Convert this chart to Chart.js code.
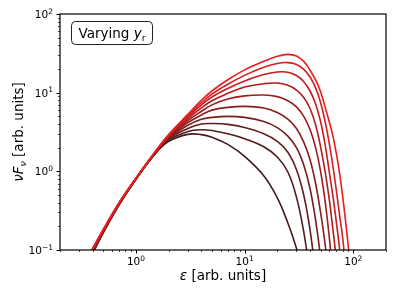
<!DOCTYPE html>
<html>
<head>
<meta charset="utf-8">
<script src="https://cdn.jsdelivr.net/npm/chart.js@4.4.0/dist/chart.umd.min.js"></script>
<style>
  body { margin: 0; background: #fff; }
  canvas { display: block; }
</style>
</head>
<body>
<canvas id="sed" width="395" height="296"></canvas>
<script>
// photon energy grid (arb. units)
const energy = [0.3, 0.4, 0.5, 0.7, 1, 1.5, 2, 3, 4, 5, 7, 10, 15, 20, 25, 30, 35, 40, 45, 50, 55, 60, 65, 70, 75, 80, 85, 90, 95, 100];

// nuFnu, one array per y_r (smallest y_r first)
const nuFnu1  = [0.038, 0.09, 0.165, 0.375, 0.79, 1.66, 2.4, 2.95, 2.93, 2.72, 2.2, 1.55, 0.88, 0.46, 0.22, 0.105, 0.045];
const nuFnu2  = [0.039, 0.092, 0.167, 0.378, 0.795, 1.68, 2.5, 3.2, 3.38, 3.3, 3.0, 2.6, 2.05, 1.52, 0.98, 0.47, 0.17, 0.05];
const nuFnu3  = [0.04, 0.094, 0.169, 0.381, 0.8, 1.69, 2.58, 3.5, 4.0, 4.05, 3.95, 3.6, 3.0, 2.4, 1.75, 1.05, 0.5, 0.18, 0.05];
const nuFnu4  = [0.041, 0.096, 0.171, 0.384, 0.805, 1.71, 2.65, 3.85, 4.6, 4.85, 5.0, 4.85, 4.3, 3.6, 2.8, 2.0, 1.2, 0.6, 0.24, 0.08, 0.02];
const nuFnu5  = [0.042, 0.098, 0.173, 0.387, 0.81, 1.72, 2.7, 4.15, 5.2, 6.0, 6.5, 6.7, 6.4, 5.6, 4.6, 3.5, 2.35, 1.4, 0.7, 0.3, 0.12, 0.04];
const nuFnu6  = [0.043, 0.099, 0.175, 0.39, 0.812, 1.73, 2.75, 4.4, 5.8, 7.0, 8.3, 9.1, 9.35, 8.9, 7.9, 6.6, 5.0, 3.4, 2.0, 1.0, 0.42, 0.15, 0.045];
const nuFnu7  = [0.044, 0.1, 0.177, 0.393, 0.814, 1.74, 2.8, 4.65, 6.4, 7.9, 9.8, 11.8, 13.0, 13.25, 12.4, 10.8, 8.7, 6.3, 3.9, 2.05, 1.0, 0.45, 0.18, 0.075, 0.03];
const nuFnu8  = [0.045, 0.102, 0.179, 0.396, 0.816, 1.75, 2.85, 4.9, 7.0, 8.8, 11.3, 14.1, 17.0, 18.3, 18.2, 16.5, 13.8, 10.5, 7.2, 4.3, 2.2, 1.0, 0.48, 0.22, 0.1, 0.04];
const nuFnu9  = [0.046, 0.104, 0.181, 0.398, 0.818, 1.76, 2.9, 5.1, 7.5, 9.6, 12.8, 16.6, 21.0, 23.5, 24.1, 22.8, 19.8, 15.8, 11.5, 7.5, 4.3, 2.3, 1.15, 0.56, 0.27, 0.14, 0.06];
const nuFnu10 = [0.047, 0.105, 0.183, 0.40, 0.82, 1.78, 2.93, 5.3, 8.0, 10.5, 14.6, 19.5, 25.0, 29.0, 30.7, 29.3, 25.0, 19.3, 14.5, 10.3, 6.6, 4.3, 2.8, 1.65, 0.92, 0.47, 0.23, 0.11, 0.05];

const curves = [nuFnu1, nuFnu2, nuFnu3, nuFnu4, nuFnu5, nuFnu6, nuFnu7, nuFnu8, nuFnu9, nuFnu10];

// labelled decades
const xMajor = [1, 10, 100];
const yMajor = [0.1, 1, 10, 100];

// dark brown -> red
const darkRGB = [62, 28, 30];
const redRGB = [236, 28, 30];
function lineColor(i) {
  const f = i / (curves.length - 1);
  const c = darkRGB.map((d, k) => Math.round(d + (redRGB[k] - d) * f));
  return `rgb(${c[0]},${c[1]},${c[2]})`;
}

const datasets = curves.map((vals, i) => ({
  data: vals.map((v, j) => ({ x: energy[j], y: v })),
  borderColor: lineColor(i),
  borderWidth: 1.6,
  pointRadius: 0,
  fill: false,
  tension: 0.4,
  order: curves.length - i
}));

const FONT = "'DejaVu Sans', sans-serif";

// draw a run of text pieces with their own font / vertical shift
function drawRich(ctx, parts, x, y, align) {
  let w = 0;
  parts.forEach(p => { ctx.font = p.font; w += ctx.measureText(p.t).width; });
  let cx = align === "center" ? x - w / 2 : align === "right" ? x - w : x;
  ctx.textAlign = "left";
  ctx.textBaseline = "alphabetic";
  parts.forEach(p => {
    ctx.font = p.font;
    ctx.fillText(p.t, cx, y + (p.dy || 0));
    cx += ctx.measureText(p.t).width;
  });
}

function powerParts(v) {
  const e = Math.round(Math.log10(v));
  return [
    { t: "10", font: `10.5px ${FONT}` },
    { t: String(e).replace("-", "\u2212"), font: `7.5px ${FONT}`, dy: -4.5 }
  ];
}

function logTicks(scale) {
  const out = [];
  for (let n = Math.floor(Math.log10(scale.min)); n <= Math.ceil(Math.log10(scale.max)); n++) {
    for (let m = 1; m <= 9; m++) {
      const v = m * Math.pow(10, n);
      if (v >= scale.min * 0.999 && v <= scale.max * 1.001) out.push({ v, major: m === 1 });
    }
  }
  return out;
}

const decor = {
  id: "decor",
  afterDraw(chart) {
    const { ctx, chartArea: a, scales: { x, y } } = chart;
    ctx.save();
    ctx.fillStyle = "#000";
    ctx.strokeStyle = "#000";

    // frame
    ctx.lineWidth = 1.2;
    ctx.strokeRect(a.left, a.top, a.right - a.left, a.bottom - a.top);

    // tick marks (outward)
    logTicks(x).forEach(t => {
      const px = Math.round(x.getPixelForValue(t.v)) + 0.5;
      ctx.lineWidth = t.major ? 1 : 0.7;
      ctx.beginPath();
      ctx.moveTo(px, a.bottom);
      ctx.lineTo(px, a.bottom + (t.major ? 3.5 : 2));
      ctx.stroke();
    });
    logTicks(y).forEach(t => {
      const py = Math.round(y.getPixelForValue(t.v)) + 0.5;
      ctx.lineWidth = t.major ? 1 : 0.7;
      ctx.beginPath();
      ctx.moveTo(a.left, py);
      ctx.lineTo(a.left - (t.major ? 3.5 : 2), py);
      ctx.stroke();
    });

    // tick labels
    xMajor.forEach(v => drawRich(ctx, powerParts(v), x.getPixelForValue(v), a.bottom + 15, "center"));
    yMajor.forEach(v => drawRich(ctx, powerParts(v), a.left - 7, y.getPixelForValue(v) + 4, "right"));

    // x title
    drawRich(ctx, [
      { t: "\u03b5", font: `italic 13.5px ${FONT}` },
      { t: " [arb. units]", font: `13.5px ${FONT}` }
    ], (a.left + a.right) / 2, 280, "center");

    // y title
    ctx.save();
    ctx.translate(18, (a.top + a.bottom) / 2);
    ctx.rotate(-Math.PI / 2);
    drawRich(ctx, [
      { t: "\u03bdF", font: `italic 13.5px ${FONT}` },
      { t: "\u03bd", font: `italic 9.5px ${FONT}`, dy: 3 },
      { t: " [arb. units]", font: `13.5px ${FONT}` }
    ], 0, 5, "center");
    ctx.restore();

    // annotation box
    const bx = 71.5, by = 21.5, bw = 81, bh = 23, r = 4;
    ctx.beginPath();
    ctx.roundRect(bx, by, bw, bh, r);
    ctx.fillStyle = "#fff";
    ctx.fill();
    ctx.lineWidth = 1;
    ctx.strokeStyle = "#222";
    ctx.stroke();
    ctx.fillStyle = "#000";
    drawRich(ctx, [
      { t: "Varying ", font: `13.5px ${FONT}` },
      { t: "y", font: `italic 13.5px ${FONT}` },
      { t: "r", font: `9.5px ${FONT}`, dy: 3 }
    ], bx + bw / 2, 38, "center");

    ctx.restore();
  }
};

new Chart(document.getElementById("sed"), {
  type: "line",
  data: { datasets },
  options: {
    responsive: false,
    animation: false,
    layout: { padding: { top: 14, right: 9, left: 0, bottom: 0 } },
    plugins: { legend: { display: false }, tooltip: { enabled: false } },
    scales: {
      x: {
        type: "logarithmic",
        min: 0.2,
        max: 200,
        grid: { display: false },
        border: { display: false },
        ticks: { display: false },
        afterFit: s => { s.height = 46; }
      },
      y: {
        type: "logarithmic",
        min: 0.1,
        max: 100,
        grid: { display: false },
        border: { display: false },
        ticks: { display: false },
        afterFit: s => { s.width = 60; }
      }
    }
  },
  plugins: [decor]
});
</script>
</body>
</html>
